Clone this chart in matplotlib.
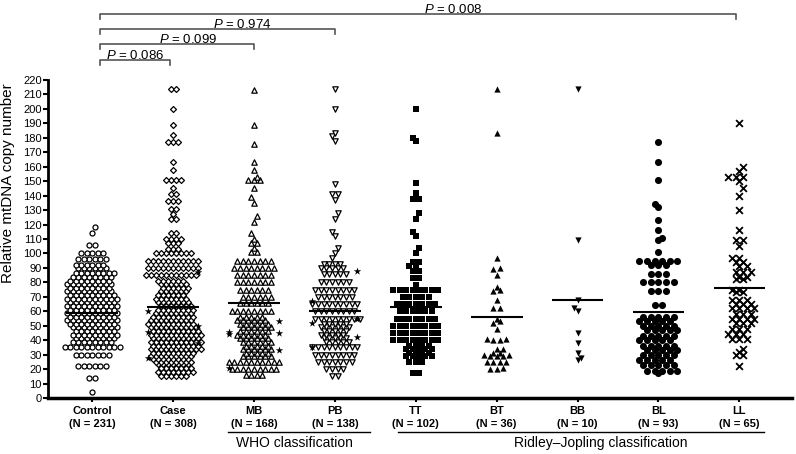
import numpy as np
import matplotlib
matplotlib.use('Agg')
import matplotlib.pyplot as plt
from matplotlib.transforms import blended_transform_factory

plt.rcParams['font.family'] = ['Liberation Sans', 'DejaVu Sans']
plt.rcParams['mathtext.fontset'] = 'custom'
plt.rcParams['mathtext.it'] = 'Liberation Sans:italic'
plt.rcParams['mathtext.rm'] = 'Liberation Sans'

groups = ['Control', 'Case', 'MB', 'PB', 'TT', 'BT', 'BB', 'BL', 'LL']
group_n = [231, 308, 168, 138, 102, 36, 10, 93, 65]
group_means = [58.5, 63, 66, 60, 63, 56, 68, 59.5, 76]

# values (value, how many points sit there)
control_vals = [4, 14, 22, 30, 35, 40, 45, 50, 55, 60, 65, 70, 75, 80, 85, 91, 96, 100, 106, 114, 118]
control_counts = [1, 2, 6, 7, 11, 16, 17, 18, 19, 19, 19, 19, 17, 17, 16, 12, 6, 5, 2, 1, 1]

case_vals = [15, 18, 22, 26, 30, 35, 40, 45, 50, 55, 60, 65, 70, 75, 80, 85, 90, 95, 100, 103,
             107, 110, 114, 124, 127, 131, 136, 141, 145, 151, 158, 163, 177, 182, 189, 200, 214]
case_counts = [6, 8, 14, 16, 18, 21, 21, 21, 20, 18, 16, 14, 13, 12, 12, 11, 11, 11, 8, 3,
               3, 4, 2, 2, 1, 2, 3, 2, 1, 4, 1, 1, 3, 1, 1, 1, 2]
case_stars = [87, 60, 50, 46, 38, 28]

mb_vals = [16, 20, 25, 30, 35, 40, 45, 50, 55, 60, 66, 70, 75, 80, 85, 90, 95, 101, 104, 107,
           110, 114, 122, 126, 135, 139, 145, 151, 153, 158, 163, 176, 189, 213]
mb_counts = [4, 9, 10, 11, 11, 12, 12, 12, 11, 8, 6, 6, 6, 7, 7, 8, 7, 2, 1, 2,
             1, 1, 1, 1, 1, 1, 1, 3, 1, 1, 1, 1, 1, 1]
mb_stars = [53, 46, 45, 44, 33, 21]

pb_vals = [15, 20, 25, 30, 35, 40, 45, 50, 55, 60, 65, 70, 75, 80, 86, 90, 93, 97, 100, 104,
           112, 115, 124, 128, 137, 141, 148, 178, 181, 183, 200, 214]
pb_counts = [2, 4, 7, 8, 9, 10, 10, 11, 9, 8, 9, 7, 8, 6, 5, 5, 4, 1, 1, 1,
             1, 1, 1, 1, 1, 2, 1, 1, 1, 1, 1, 1]
pb_stars = [88, 67, 55, 52, 42, 35]

tt_vals = [17, 25, 30, 35, 40, 45, 50, 55, 60, 65, 70, 75, 78, 83, 88, 91, 94, 100, 104, 112,
           115, 124, 128, 138, 142, 149, 178, 180, 200]
tt_counts = [2, 3, 9, 9, 8, 8, 8, 7, 6, 7, 5, 8, 1, 2, 2, 2, 2, 1, 1, 1,
             1, 1, 1, 2, 1, 1, 1, 1, 1]

bt_vals = [20, 21, 25, 29, 30, 31, 34, 40, 41, 48, 52, 53, 55, 62, 68, 74, 75, 77, 85, 89, 90, 97, 183, 214]
bt_counts = [2, 1, 4, 3, 2, 2, 2, 2, 2, 1, 1, 1, 1, 2, 1, 1, 1, 1, 1, 1, 1, 1, 1, 1]

bb_vals = [26, 28, 31, 38, 45, 60, 62, 68, 109, 214]
bb_counts = [1, 1, 1, 1, 1, 1, 1, 1, 1, 1]

bl_vals = [17, 19, 23, 26, 30, 33, 36, 40, 43, 47, 50, 53, 56, 64, 74, 80, 86, 92, 95, 101,
           109, 111, 116, 123, 132, 134, 151, 163, 177]
bl_counts = [1, 5, 5, 5, 5, 5, 5, 5, 5, 5, 5, 5, 5, 2, 3, 5, 3, 3, 6, 1,
             1, 1, 1, 1, 1, 1, 1, 1, 1]

ll_vals = [22, 30, 32, 34, 41, 44, 48, 52, 55, 58, 62, 65, 68, 73, 75, 82, 84, 87, 91, 94,
           97, 105, 109, 116, 130, 140, 145, 150, 153, 157, 160, 190]
ll_counts = [1, 2, 1, 1, 3, 3, 3, 3, 4, 3, 4, 3, 3, 2, 2, 2, 2, 3, 2, 2,
             2, 1, 2, 1, 1, 1, 1, 1, 3, 1, 1, 1]

p_values = ['0.086', '0.099', '0.974', '0.008']
p_targets = ['Case', 'MB', 'PB', 'LL']

# marker, filled, size (pt^2), horizontal pitch (px), points per row
styles = {
    'Control': ('o', False, 13, 5.5, 11),
    'Case': ('D', False, 9, 5.0, 11),
    'MB': ('^', False, 15, 5.6, 10),
    'PB': ('v', False, 15, 5.6, 9),
    'TT': ('s', True, 19, 6.4, 8),
    'BT': ('^', True, 20, 6.4, 6),
    'BB': ('v', True, 20, 6.4, 6),
    'BL': ('o', True, 26, 7.6, 7),
    'LL': ('x', False, 24, 7.4, 6),
}
data = {
    'Control': (control_vals, control_counts, []),
    'Case': (case_vals, case_counts, case_stars),
    'MB': (mb_vals, mb_counts, mb_stars),
    'PB': (pb_vals, pb_counts, pb_stars),
    'TT': (tt_vals, tt_counts, []),
    'BT': (bt_vals, bt_counts, []),
    'BB': (bb_vals, bb_counts, []),
    'BL': (bl_vals, bl_counts, []),
    'LL': (ll_vals, ll_counts, []),
}


def grid_rows(rows, pitch, per_row, merge=2.6):
    '''lay rows of points side by side, nesting neighbouring rows (px offsets)'''
    # rows closer than `merge` px share one line of slots
    clusters = []
    for py, n in sorted(rows):
        if clusters and py - clusters[-1][0] < merge and len(clusters[-1][1]) + n <= per_row:
            clusters[-1][1].extend([py] * n)
        else:
            clusters.append([py, [py] * n])
    xs, ys = [], []
    prev_y, prev_n, prev_s = -1e9, 0, 0.0
    flip = 1
    for _, cy in clusters:
        n = len(cy)
        my = np.mean(cy)
        if my - prev_y < pitch * 1.1:
            if n % 2 == prev_n % 2:
                if prev_s == 0:
                    s = flip * pitch / 2
                    flip = -flip
                else:
                    s = 0.0
            else:
                s = prev_s
        else:
            s = 0.0
        order = sorted(range(n), key=lambda j: abs(j - (n - 1) / 2))
        for j, py in zip(order, cy):
            xs.append((j - (n - 1) / 2) * pitch + s)
            ys.append(py)
        prev_y, prev_n, prev_s = my, n, s
    return np.array(xs), np.array(ys)


fig = plt.figure(figsize=(7.96, 4.54), dpi=100)
ax = fig.add_axes([48 / 796, 56 / 454, 744 / 796, 318 / 454])
ax.set_xlim(-0.545, 8.65)
ax.set_ylim(0, 220)

for i, g in enumerate(groups):
    vals, counts, stars = data[g]
    marker, filled, size, pitch, per_row = styles[g]
    cx, _ = ax.transData.transform((i, 0))
    # split crowded values into sub-rows so the swarm stays compact
    rows = []
    for v, c in zip(vals, counts):
        _, py0 = ax.transData.transform((i, v))
        nrows = int(np.ceil(c / per_row))
        for k in range(nrows):
            n = c // nrows + (1 if k < c % nrows else 0)
            rows.append((py0 + (k - (nrows - 1) / 2) * 3.5, n))
    xs, ys = grid_rows(rows, pitch, per_row)
    pts = ax.transData.inverted().transform(np.column_stack([cx + xs, ys]))
    if filled:
        ax.scatter(pts[:, 0], pts[:, 1], s=size, marker=marker, c='black',
                   linewidths=0, clip_on=False, zorder=2)
    elif marker == 'x':
        ax.scatter(pts[:, 0], pts[:, 1], s=size, marker=marker, c='black',
                   linewidths=1.3, clip_on=False, zorder=2)
    else:
        ax.scatter(pts[:, 0], pts[:, 1], s=size, marker=marker, facecolors='white',
                   edgecolors='black', linewidths=0.9, clip_on=False, zorder=2)
    if stars:
        # starred cases sit at the edges of the swarm
        edge = (per_row - 1) / 2 * pitch
        sides = np.array([(-1) ** k for k in range(len(stars))]) * edge
        spy = ax.transData.transform(np.column_stack([np.full(len(stars), i), stars]))[:, 1]
        spts = ax.transData.inverted().transform(np.column_stack([cx + sides, spy]))
        ax.scatter(spts[:, 0], spts[:, 1], s=32, marker='*', c='black',
                   linewidths=0, zorder=3)
    ax.hlines(group_means[i], i - 0.32, i + 0.32, color='black', lw=1.5, zorder=4)

ax.set_xticks(range(len(groups)))
ax.set_xticklabels([f'{g}\n(N = {n})' for g, n in zip(groups, group_n)],
                   fontsize=8, fontweight='bold', linespacing=1.3)
ax.set_yticks(range(0, 221, 10))
ax.tick_params(axis='y', labelsize=8, length=3.5, width=1.5, pad=1)
ax.tick_params(axis='x', length=3, width=1.5, pad=3)
for side in ['top', 'right']:
    ax.spines[side].set_visible(False)
ax.spines['left'].set_linewidth(2)
ax.spines['bottom'].set_linewidth(2.5)
ax.set_ylabel('Relative mtDNA copy number', fontsize=11)
ax.yaxis.set_label_coords(-0.045, 0.676)

# significance brackets above the plot
bracket_y = [234, 245, 255.4, 265.7]
text_x = [0.53, 1.19, 1.86, 4.47]
for p, tgt, by, tx in zip(p_values, p_targets, bracket_y, text_x):
    x1 = groups.index(tgt) - (0.04 if tgt in ('Case', 'LL') else 0)
    ax.plot([0.1, 0.1, x1, x1], [by - 3.5, by, by, by - 3.5], color='#555555',
            lw=1.2, clip_on=False)
    ax.text(tx, by + 3.2, f'$\\it{{P}}$ = {p}', ha='center', va='center', fontsize=9.5)

# classification group lines under the tick labels
trans = blended_transform_factory(ax.transData, ax.transAxes)
ax.plot([1.68, 3.44], [-0.107, -0.107], color='black', lw=1, transform=trans, clip_on=False)
ax.text(2.5, -0.14, 'WHO classification', ha='center', va='center', fontsize=10, transform=trans)
ax.plot([3.78, 8.31], [-0.107, -0.107], color='black', lw=1, transform=trans, clip_on=False)
ax.text(6.29, -0.14, 'Ridley\u2013Jopling classification', ha='center', va='center',
        fontsize=10, transform=trans)

fig.savefig('out.png', dpi=100)
